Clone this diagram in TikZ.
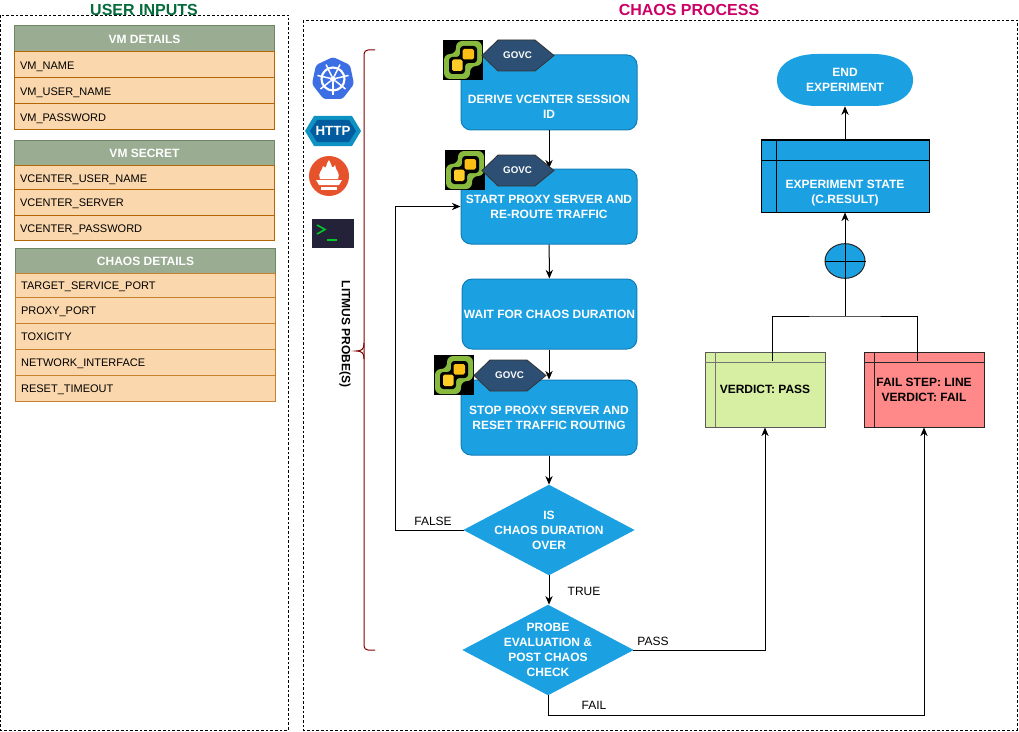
\documentclass[tikz,border=0pt]{standalone}
\usepackage{fontspec}
\setmainfont{Liberation Sans}
\usetikzlibrary{shapes.geometric,arrows.meta}
\definecolor{bluefill}{HTML}{1BA1E2}
\definecolor{blueline}{HTML}{0F7DB8}
\definecolor{sage}{HTML}{9AAC92}
\definecolor{sageline}{HTML}{6D8764}
\definecolor{peach}{HTML}{FAD7AC}
\definecolor{peachline}{HTML}{B46504}
\definecolor{hexfill}{HTML}{2D4F73}
\definecolor{passfill}{HTML}{D7EFA3}
\definecolor{failfill}{HTML}{FF8888}
\definecolor{titlegreen}{HTML}{056B3A}
\definecolor{titlepink}{HTML}{CC0066}
\definecolor{braceline}{HTML}{800000}
\definecolor{vcgreen}{RGB}{136,186,62}
\tikzset{
  x=0.75pt,y=-0.75pt,
  thinline/.style={line width=0.75pt},
  panel/.style={draw=black,line width=0.6pt,dash pattern=on 2pt off 1.5pt},
  paneltitle/.style={font=\bfseries\fontsize{12pt}{14pt}\selectfont,inner sep=0pt},
  head/.style={draw=sageline,fill=sage,line width=0.75pt,minimum width=195pt,inner sep=0pt,text=white,text height=6.2pt,text depth=0pt,font=\bfseries\fontsize{9pt}{10pt}\selectfont},
  row/.style={draw=peachline,fill=peach,line width=0.75pt,minimum width=195pt,inner xsep=4.2pt,inner ysep=0pt,text width=186.6pt,align=left,text height=6.7pt,text depth=0pt,font=\fontsize{8.25pt}{10pt}\selectfont},
  flowbox/.style={draw=blueline,fill=bluefill,line width=0.75pt,rounded corners=7.5pt,minimum width=132pt,inner sep=0pt,text=white,align=center,font=\bfseries\fontsize{9pt}{11.25pt}\selectfont},
  decision/.style={diamond,draw=bluefill,fill=bluefill,line width=0.5pt,minimum width=127.5pt,minimum height=67.5pt,inner sep=0pt},
  decisiontext/.style={text=white,align=center,font=\bfseries\fontsize{9pt}{11.2pt}\selectfont,inner sep=0pt},
  hexa/.style={draw=black!80,fill=hexfill,line width=0.6pt},
  swim/.style={draw=#1,line width=0.75pt,minimum width=90pt,minimum height=56.25pt,inner sep=0pt,align=center,font=\bfseries\fontsize{9pt}{11.2pt}\selectfont},
  link/.style={draw=black,line width=0.75pt},
  arrowlink/.style={link,-{Stealth[length=6.5pt,width=5.5pt]}},
  edgelabel/.style={font=\fontsize{9pt}{10pt}\selectfont,inner sep=0pt},
}
\newcommand{\vcicon}[2]{%
  \begin{scope}[shift={(#1,#2)}]
    \fill[black] (0,0) rectangle (40,40);
    \fill[vcgreen,rounded corners=4.5pt]
      (13,1) -- (39,1) -- (39,26) -- (27,26) -- (27,39) -- (1,39) -- (1,14) -- (13,14) -- cycle;
    \fill[black,rounded corners=2.5pt]
      (17,6) -- (34,6) -- (34,23) -- (22,23) -- (22,34) -- (6,34) -- (6,17) -- (17,17) -- cycle;
    \fill[color={rgb,255:red,255;green,205;blue,40},rounded corners=1.2pt] (9,19.5) rectangle (19.5,31);
    \fill[color={rgb,255:red,250;green,190;blue,20},rounded corners=1.2pt] (19.5,9) rectangle (31,19.5);
  \end{scope}}
\newcommand{\hexshape}[3]{% x y name
  \draw[hexa] (#1,#2+15.5) -- (#1+16,#2) -- (#1+53,#2) -- (#1+72,#2+15.5) -- (#1+53,#2+31) -- (#1+16,#2+31) -- cycle;
  \node[text=white,font=\bfseries\fontsize{7.3pt}{8pt}\selectfont,inner sep=0pt] (#3) at (#1+35.5,#2+15) {GOVC};}
\begin{document}
\begin{tikzpicture}
\useasboundingbox (0,0) rectangle (1019,731);
% panels
\node[paneltitle,text=titlegreen] (userTitle) at (144,9.5) {USER INPUTS};
\node[paneltitle,text=titlepink] (chaosTitle) at (689,9.5) {CHAOS PROCESS};
\draw[panel] (0.5,15) rectangle (288.5,730);
\draw[panel] (303,20) rectangle (1017,730);
% VM details
\node[head,minimum height=19.5pt] (vmH) at (144.5,39) {VM DETAILS};
\node[row,minimum height=19.5pt] (vm1) at (144.5,65) {VM\_NAME};
\node[row,minimum height=19.5pt] (vm2) at (144.5,91) {VM\_USER\_NAME};
\node[row,minimum height=19.5pt] (vm3) at (144.5,117) {VM\_PASSWORD};
% VM secret
\node[head,minimum height=18.75pt] (secH) at (144.5,153) {VM SECRET};
\node[row,minimum height=18.75pt] (sec1) at (144.5,178) {VCENTER\_USER\_NAME};
\node[row,minimum height=19.1pt] (sec2) at (144.5,202.5) {VCENTER\_SERVER};
\node[row,minimum height=19.1pt] (sec3) at (144.5,228) {VCENTER\_PASSWORD};
% chaos details
\node[head,minimum height=18.75pt] (chH) at (145.5,261) {CHAOS DETAILS};
\node[row,minimum height=18pt,draw=peachline!75!peach] (ch1) at (145.5,285.5) {TARGET\_SERVICE\_PORT};
\node[row,minimum height=19.5pt,draw=peachline!75!peach] (ch2) at (145.5,310) {PROXY\_PORT};
\node[row,minimum height=19.5pt,draw=peachline!75!peach] (ch3) at (145.5,336) {TOXICITY};
\node[row,minimum height=19.5pt,draw=peachline!75!peach] (ch4) at (145.5,362) {NETWORK\_INTERFACE};
\node[row,minimum height=19.5pt,draw=peachline!75!peach] (ch5) at (145.5,388) {RESET\_TIMEOUT};
% probe icons
\begin{scope}[shift={(333,79)}]
  \fill[color={rgb,255:red,60;green,110;blue,228},rounded corners=2pt]
    (0,-22) -- (17,-14) -- (21,5) -- (9.5,20) -- (-9.5,20) -- (-21,5) -- (-17,-14) -- cycle;
  \draw[white,line width=1.6pt] (0,0) circle (11.5);
  \foreach \a in {90,141.4,192.9,244.3,295.7,347.1,38.6}
    \draw[white,line width=1.1pt] (\a:3) -- (\a:16);
  \fill[white] (0,0) circle (3);
\end{scope}
\fill[color={rgb,255:red,14;green,146;blue,196}] (305,131) -- (314,116) -- (352,116) -- (361,131) -- (352,146) -- (314,146) -- cycle;
\fill[color={rgb,255:red,0;green,92;blue,158}] (310,131) -- (317,120) -- (349,120) -- (356,131) -- (349,142) -- (317,142) -- cycle;
\node[text=white,font=\bfseries\fontsize{10pt}{12pt}\selectfont,inner sep=0pt] (httpText) at (333,131) {HTTP};
\begin{scope}[shift={(329,176)}]
  \fill[color={rgb,255:red,230;green,82;blue,44}] (0,0) circle (20);
  \fill[white] (-9,3) .. controls (-12,-3) and (-6,-6) .. (-6,-10) .. controls (-4,-8) and (-3,-8) .. (-3,-9)
     .. controls (-3,-12) and (-1,-14) .. (0,-16) .. controls (1,-13) and (3,-11) .. (3,-9)
     .. controls (4,-8) and (5,-9) .. (6,-11) .. controls (6,-6) and (12,-3) .. (9,3) -- cycle;
  \fill[white] (-13,4) -- (13,4) -- (10,9) -- (-10,9) -- cycle;
  \fill[white] (-8,11) rectangle (8,14);
\end{scope}
\fill[color={rgb,255:red,36;green,34;blue,56}] (312,219) rectangle (354,248);
\draw[color={rgb,255:red,0;green,200;blue,40},line width=1.2pt] (317,225) -- (325,229.5) -- (317,234);
\draw[color={rgb,255:red,0;green,200;blue,40},line width=1.5pt] (327,240) -- (337,240);
% brace
\draw[braceline,line width=0.75pt,rounded corners=3pt] (375,50) -- (364,50) -- (364,351);
\draw[braceline,line width=0.75pt] (364,343) .. controls (364,349) and (362,351) .. (356,351) .. controls (362,351) and (364,353) .. (364,359);
\draw[braceline,line width=0.75pt,rounded corners=3pt] (364,351) -- (364,650) -- (375,650);
\node[rotate=-90,font=\bfseries\fontsize{9pt}{10pt}\selectfont,inner sep=0pt] (probeLabel) at (345,334) {LITMUS PROBE(S)};
% flow nodes
\node[flowbox,minimum height=56.25pt] (derive) at (549,92.5) {\\[16.5pt]DERIVE VCENTER SESSION\\ID};
\node[flowbox,minimum height=56.25pt] (start) at (549,206.5) {START PROXY SERVER AND\\RE-ROUTE TRAFFIC};
\node[flowbox,minimum height=52.5pt,minimum width=131pt] (wait) at (549.5,314) {WAIT FOR CHAOS DURATION};
\node[flowbox,minimum height=56.25pt] (stop) at (549,417.5) {STOP PROXY SERVER AND\\RESET TRAFFIC ROUTING};
\node[decision,label={[decisiontext]center:IS\\CHAOS DURATION\\OVER}] (over) at (549,530) {};
\node[decision,label={[decisiontext]center:PROBE\\EVALUATION \&\\POST CHAOS\\CHECK}] (probe) at (548,650) {};
\fill[bluefill] (777,80) .. controls (777,62) and (797,54) .. (817,54) -- (873,54) .. controls (893,54) and (913,62) .. (913,80)
   .. controls (913,98) and (893,106) .. (873,106) -- (817,106) .. controls (797,106) and (777,98) .. (777,80) -- cycle;
\node[rectangle,minimum width=102pt,minimum height=39pt,inner sep=0pt,text=white,align=center,font=\bfseries\fontsize{9pt}{11.2pt}\selectfont] (endexp) at (845,80) {END\\EXPERIMENT};
\node[swim=black,fill=bluefill,minimum width=126pt,minimum height=54pt,text=white] (state) at (845,176) {\\[20.3pt]EXPERIMENT STATE\\(C.RESULT)};
\draw[thinline] (776,140) -- (776,212) (761,160) -- (929,160);
\node[swim=black!65,fill=passfill] (pass) at (765,389.5) {VERDICT: PASS};
\draw[black!55,line width=0.75pt] (715,352) -- (715,427) (705,362) -- (825,362);
\node[swim=black!85,fill=failfill] (fail) at (924,389.5) {FAIL STEP: LINE\\VERDICT: FAIL};
\draw[black!85,line width=0.75pt] (874,352) -- (874,427) (864,362) -- (984,362);
% join
\node[ellipse,draw=black!85,fill=bluefill,line width=0.75pt,minimum width=30pt,minimum height=26pt,inner sep=0pt] (join) at (845,261) {};
\draw[thinline] (join.west) -- (join.east);
\coordinate (joinLow) at (845,316);
\coordinate (passUp) at (772,361);
\coordinate (failUp) at (917,361);
\coordinate (loopX) at (395,530);
\coordinate (passX) at (765,650);
\coordinate (failY) at (548,715);
% connectors
\draw[arrowlink] (derive) -- (start);
\draw[arrowlink] (start) -- (wait);
\draw[arrowlink] (wait.south -| stop.north) -- (stop.north);
\draw[arrowlink] (stop) -- (over);
\draw[arrowlink] (over.south) -- (over.south |- probe.north);
\draw[arrowlink] (over.west) -- (loopX) |- (start.west);
\draw[arrowlink] (probe.east) -- (passX) -- (pass.south);
\draw[arrowlink] (probe.south) -- (failY) -| (fail.south);
\draw[link] (passUp) |- (joinLow) -| (failUp);
\draw[arrowlink] (joinLow) -- (state.south);
\draw[arrowlink] (state.north) -- (endexp.south);
% labels
\node[edgelabel] (lFalse) at (433,521) {FALSE};
\node[edgelabel] (lTrue) at (584,591) {TRUE};
\node[edgelabel] (lPass) at (653,641) {PASS};
\node[edgelabel] (lFail) at (594,705) {FAIL};
% icons on top
\vcicon{443}{40}
\hexshape{482}{40}{gov1}
\vcicon{445}{150}
\hexshape{482}{155}{gov2}
\vcicon{434}{355}
\hexshape{474}{360}{gov3}
\end{tikzpicture}
\end{document}
